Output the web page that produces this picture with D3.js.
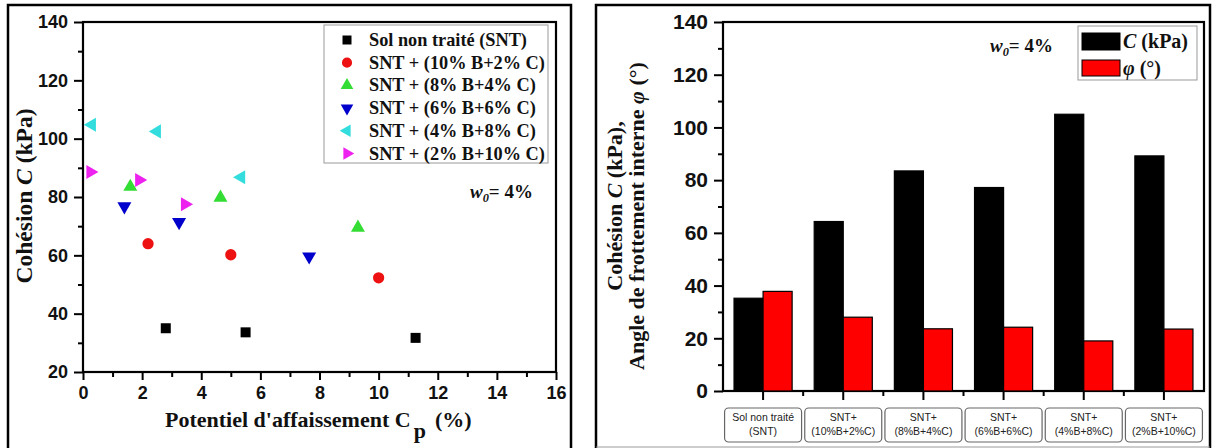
<!DOCTYPE html>
<html><head><meta charset="utf-8">
<script src="https://cdn.jsdelivr.net/npm/d3@7"></script>
<style>body{margin:0;background:#fff}svg{display:block}</style>
</head><body>
<svg id="c" width="1213" height="448"></svg>
<script>
// ---- Left chart data ----
const seriesNames = ["Sol non traité (SNT)","SNT + (10% B+2% C)","SNT + (8% B+4% C)","SNT + (6% B+6% C)","SNT + (4% B+8% C)","SNT + (2% B+10% C)"];
const seriesColors = ["#000000","#ee1111","#33dd33","#0000cc","#33dddd","#ee22ee"];
const seriesShapes = ["square","circle","up","down","left","right"];
const cpValues = [
  [2.8, 5.5, 11.25],
  [2.2, 5.0, 10.0],
  [1.6, 4.65, 9.3],
  [1.4, 3.25, 7.65],
  [0.3, 2.5, 5.35],
  [0.25, 1.9, 3.45]
];
const cohValues = [
  [35.0, 33.6, 31.7],
  [64.0, 60.2, 52.3],
  [83.5, 79.8, 69.5],
  [76.8, 71.4, 59.6],
  [104.8, 102.5, 86.8],
  [88.6, 85.8, 77.5]
];
const xTicksLeft = [0,2,4,6,8,10,12,14,16];
const yTicksLeft = [20,40,60,80,100,120,140];

// ---- Right chart data ----
const categoriesL1 = ["Sol non traité","SNT+","SNT+","SNT+","SNT+","SNT+"];
const categoriesL2 = ["(SNT)","(10%B+2%C)","(8%B+4%C)","(6%B+6%C)","(4%B+8%C)","(2%B+10%C)"];
const cohesionC = [35.2, 64.3, 83.5, 77.2, 105.0, 89.2];
const frictionPhi = [37.8, 28.0, 23.6, 24.2, 19.0, 23.5];
const barSeries = ["C","phi"];
const barColors = ["#000000","#ff0000"];
const yTicksRight = [0,20,40,60,80,100,120,140];

const svg = d3.select("#c");
const serif = "'Liberation Serif','Times New Roman',serif";
const sans = "'Liberation Sans',Arial,sans-serif";

// outer panel borders
svg.append("path").attr("d","M8,448 L8,5 L571,5 L571,448").attr("fill","none").attr("stroke","#000").attr("stroke-width",2.5);
svg.append("path").attr("d","M596,448 L596,5 L1210,5 L1210,448").attr("fill","none").attr("stroke","#000").attr("stroke-width",2.5);
svg.append("line").attr("x1",596).attr("x2",1210).attr("y1",447).attr("y2",447).attr("stroke","#999").attr("stroke-width",1);

// ================= LEFT =================
const xL = d3.scaleLinear().domain([0,16]).range([83,556]);
const yL = d3.scaleLinear().domain([20,140]).range([372,22]);
const gL = svg.append("g");
gL.append("rect").attr("x",xL(0)).attr("y",yL(140)).attr("width",xL(16)-xL(0)).attr("height",yL(20)-yL(140))
  .attr("fill","none").attr("stroke","#000").attr("stroke-width",2.2);

function styleAxis(g, fs){
  g.select(".domain").remove();
  g.selectAll(".tick line").attr("stroke","#000").attr("stroke-width",2);
  g.selectAll(".tick text").attr("font-family",sans).attr("font-weight","bold").attr("font-size",fs).attr("fill","#111");
}
// minor ticks
gL.append("g").attr("transform",`translate(0,${yL(20)})`)
  .call(d3.axisBottom(xL).tickValues(d3.range(1,16,2)).tickSize(5).tickFormat(""))
  .call(g=>{g.select(".domain").remove();g.selectAll(".tick line").attr("stroke","#000").attr("stroke-width",2);});
gL.append("g").attr("transform",`translate(${xL(0)},0)`)
  .call(d3.axisLeft(yL).tickValues(d3.range(30,140,20)).tickSize(5).tickFormat(""))
  .call(g=>{g.select(".domain").remove();g.selectAll(".tick line").attr("stroke","#000").attr("stroke-width",2);});
gL.append("g").attr("transform",`translate(0,${yL(20)})`)
  .call(d3.axisBottom(xL).tickValues(xTicksLeft).tickSize(8).tickPadding(6).tickFormat(d3.format("d")))
  .call(g=>styleAxis(g,"18px"));
gL.append("g").attr("transform",`translate(${xL(0)},0)`)
  .call(d3.axisLeft(yL).tickValues(yTicksLeft).tickSize(9).tickPadding(6).tickFormat(d3.format("d")))
  .call(g=>styleAxis(g,"18px"));

function symbolPath(shape){
  if(shape==="square") return d3.symbol().type(d3.symbolSquare).size(100)();
  if(shape==="circle") return d3.symbol().type(d3.symbolCircle).size(100)();
  return d3.symbol().type(d3.symbolTriangle).size(85)();
}
const rot = {square:0,circle:0,up:0,down:180,left:-90,right:90};
seriesNames.forEach((name,i)=>{
  cpValues[i].forEach((xv,j)=>{
    gL.append("path").attr("d",symbolPath(seriesShapes[i]))
      .attr("transform",`translate(${xL(xv)},${yL(cohValues[i][j])}) rotate(${rot[seriesShapes[i]]})`)
      .attr("fill",seriesColors[i]);
  });
});
// legend
const lg = gL.append("g");
lg.append("rect").attr("x",324).attr("y",25).attr("width",224).attr("height",138).attr("fill","#fff").attr("stroke","#999").attr("stroke-width",1);
seriesNames.forEach((name,i)=>{
  const yy = 40 + i*22.7;
  lg.append("path").attr("d",symbolPath(seriesShapes[i])).attr("transform",`translate(347,${yy}) rotate(${rot[seriesShapes[i]]}) scale(0.9)`).attr("fill",seriesColors[i]);
  lg.append("text").attr("x",369).attr("y",yy+6).attr("font-family",serif).attr("font-weight","bold").attr("font-size","18.3px").attr("fill","#111").text(name);
});
// w0 annotation
function w0(g,x,y,fs){
  const t = g.append("text").attr("x",x).attr("y",y).attr("font-family",serif).attr("font-weight","bold").attr("font-size",fs).attr("fill","#111");
  t.append("tspan").attr("font-style","italic").text("w");
  t.append("tspan").attr("font-style","italic").attr("font-size","0.65em").attr("dy","0.35em").text("0");
  t.append("tspan").attr("dy","-0.23em").text("= 4%");
}
w0(gL,470,198,"19px");
// axis titles
const ytL = gL.append("text").attr("transform","translate(32,196) rotate(-90)").attr("text-anchor","middle")
  .attr("font-family",serif).attr("font-weight","bold").attr("font-size","23.5px").attr("fill","#111");
ytL.append("tspan").text("Cohésion ");
ytL.append("tspan").attr("font-style","italic").text("C");
ytL.append("tspan").text(" (kPa)");
const xtL = gL.append("text").attr("x",165).attr("y",427)
  .attr("font-family",serif).attr("font-weight","bold").attr("font-size","22px").attr("fill","#111");
xtL.append("tspan").text("Potentiel d'affaissement C");
xtL.append("tspan").attr("dy",11).attr("dx",3).text("p");
xtL.append("tspan").attr("dy",-11).attr("dx",9).text("(%)");

// ================= RIGHT =================
const catIdx = d3.range(categoriesL1.length);
const xR = d3.scaleBand().domain(catIdx).range([723,1204]).paddingInner(0).paddingOuter(0);
const xSub = d3.scaleBand().domain(barSeries).range([0,xR.bandwidth()]).paddingInner(0).paddingOuter(0.38);
const yR = d3.scaleLinear().domain([0,140]).range([391,22]);
const gR = svg.append("g");
gR.append("rect").attr("x",723).attr("y",yR(140)).attr("width",1204-723).attr("height",yR(0)-yR(140))
  .attr("fill","none").attr("stroke","#000").attr("stroke-width",2.2);
const barVals = [cohesionC, frictionPhi];
barSeries.forEach((s,si)=>{
  gR.selectAll(null).data(catIdx).enter().append("rect")
    .attr("x",i=>xR(i)+xSub(s)).attr("width",xSub.bandwidth())
    .attr("y",i=>yR(barVals[si][i])).attr("height",i=>yR(0)-yR(barVals[si][i]))
    .attr("fill",barColors[si]).attr("stroke","#000").attr("stroke-width",1.2);
});
// y axis
gR.append("g").attr("transform",`translate(723,0)`)
  .call(d3.axisLeft(yR).tickValues(d3.range(10,140,20)).tickSize(5).tickFormat(""))
  .call(g=>{g.select(".domain").remove();g.selectAll(".tick line").attr("stroke","#000").attr("stroke-width",2);});
gR.append("g").attr("transform",`translate(723,0)`)
  .call(d3.axisLeft(yR).tickValues(yTicksRight).tickSize(9).tickPadding(6).tickFormat(d3.format("d")))
  .call(g=>styleAxis(g,"21px"));
// x ticks: majors at band centers, minors at boundaries
gR.selectAll(null).data(catIdx).enter().append("line")
  .attr("x1",i=>xR(i)+xR.bandwidth()/2).attr("x2",i=>xR(i)+xR.bandwidth()/2)
  .attr("y1",yR(0)).attr("y2",yR(0)+9).attr("stroke","#000").attr("stroke-width",2);
gR.selectAll(null).data(catIdx.slice(1)).enter().append("line")
  .attr("x1",i=>xR(i)).attr("x2",i=>xR(i))
  .attr("y1",yR(0)).attr("y2",yR(0)+5).attr("stroke","#000").attr("stroke-width",2);
// category boxes
const cb = gR.selectAll(null).data(catIdx).enter().append("g")
  .attr("transform",i=>`translate(${xR(i)+xR.bandwidth()/2},0)`);
cb.append("rect").attr("x",-38.5).attr("y",408).attr("width",77).attr("height",34).attr("rx",4)
  .attr("fill","#fff").attr("stroke","#666").attr("stroke-width",1.2);
cb.append("text").attr("y",421).attr("text-anchor","middle").attr("font-family",sans).attr("font-size","10.5px").attr("fill","#222").text(i=>categoriesL1[i]);
cb.append("text").attr("y",435).attr("text-anchor","middle").attr("font-family",sans).attr("font-size","10.5px").attr("fill","#222").text(i=>categoriesL2[i]);
// legend
const lgR = gR.append("g");
lgR.append("rect").attr("x",1078).attr("y",26).attr("width",119).attr("height",54).attr("fill","#fff").attr("stroke","#999").attr("stroke-width",1);
lgR.append("rect").attr("x",1082).attr("y",33).attr("width",38).attr("height",17).attr("fill","#000").attr("stroke","#000");
lgR.append("rect").attr("x",1082).attr("y",60).attr("width",38).attr("height",16).attr("fill","#ff0000").attr("stroke","#000");
const l1 = lgR.append("text").attr("x",1123).attr("y",48).attr("font-family",serif).attr("font-weight","bold").attr("font-size","20px").attr("fill","#111");
l1.append("tspan").attr("font-style","italic").text("C");
l1.append("tspan").text(" (kPa)");
const l2 = lgR.append("text").attr("x",1123).attr("y",75).attr("font-family",serif).attr("font-weight","bold").attr("font-size","20px").attr("fill","#111");
l2.append("tspan").attr("font-style","italic").text("φ");
l2.append("tspan").text(" (°)");
w0(gR,990,52,"19px");
// y titles
const yt1 = gR.append("text").attr("transform","translate(622,206) rotate(-90)").attr("text-anchor","middle")
  .attr("font-family",serif).attr("font-weight","bold").attr("font-size","22px").attr("fill","#111");
yt1.append("tspan").text("Cohésion ");
yt1.append("tspan").attr("font-style","italic").text("C");
yt1.append("tspan").text(" (kPa),");
const yt2 = gR.append("text").attr("transform","translate(644,216) rotate(-90)").attr("text-anchor","middle")
  .attr("font-family",serif).attr("font-weight","bold").attr("font-size","22px").attr("fill","#111");
yt2.append("tspan").text("Angle de frottement interne ");
yt2.append("tspan").attr("font-style","italic").text("φ");
yt2.append("tspan").text(" (°)");
</script>
</body></html>
